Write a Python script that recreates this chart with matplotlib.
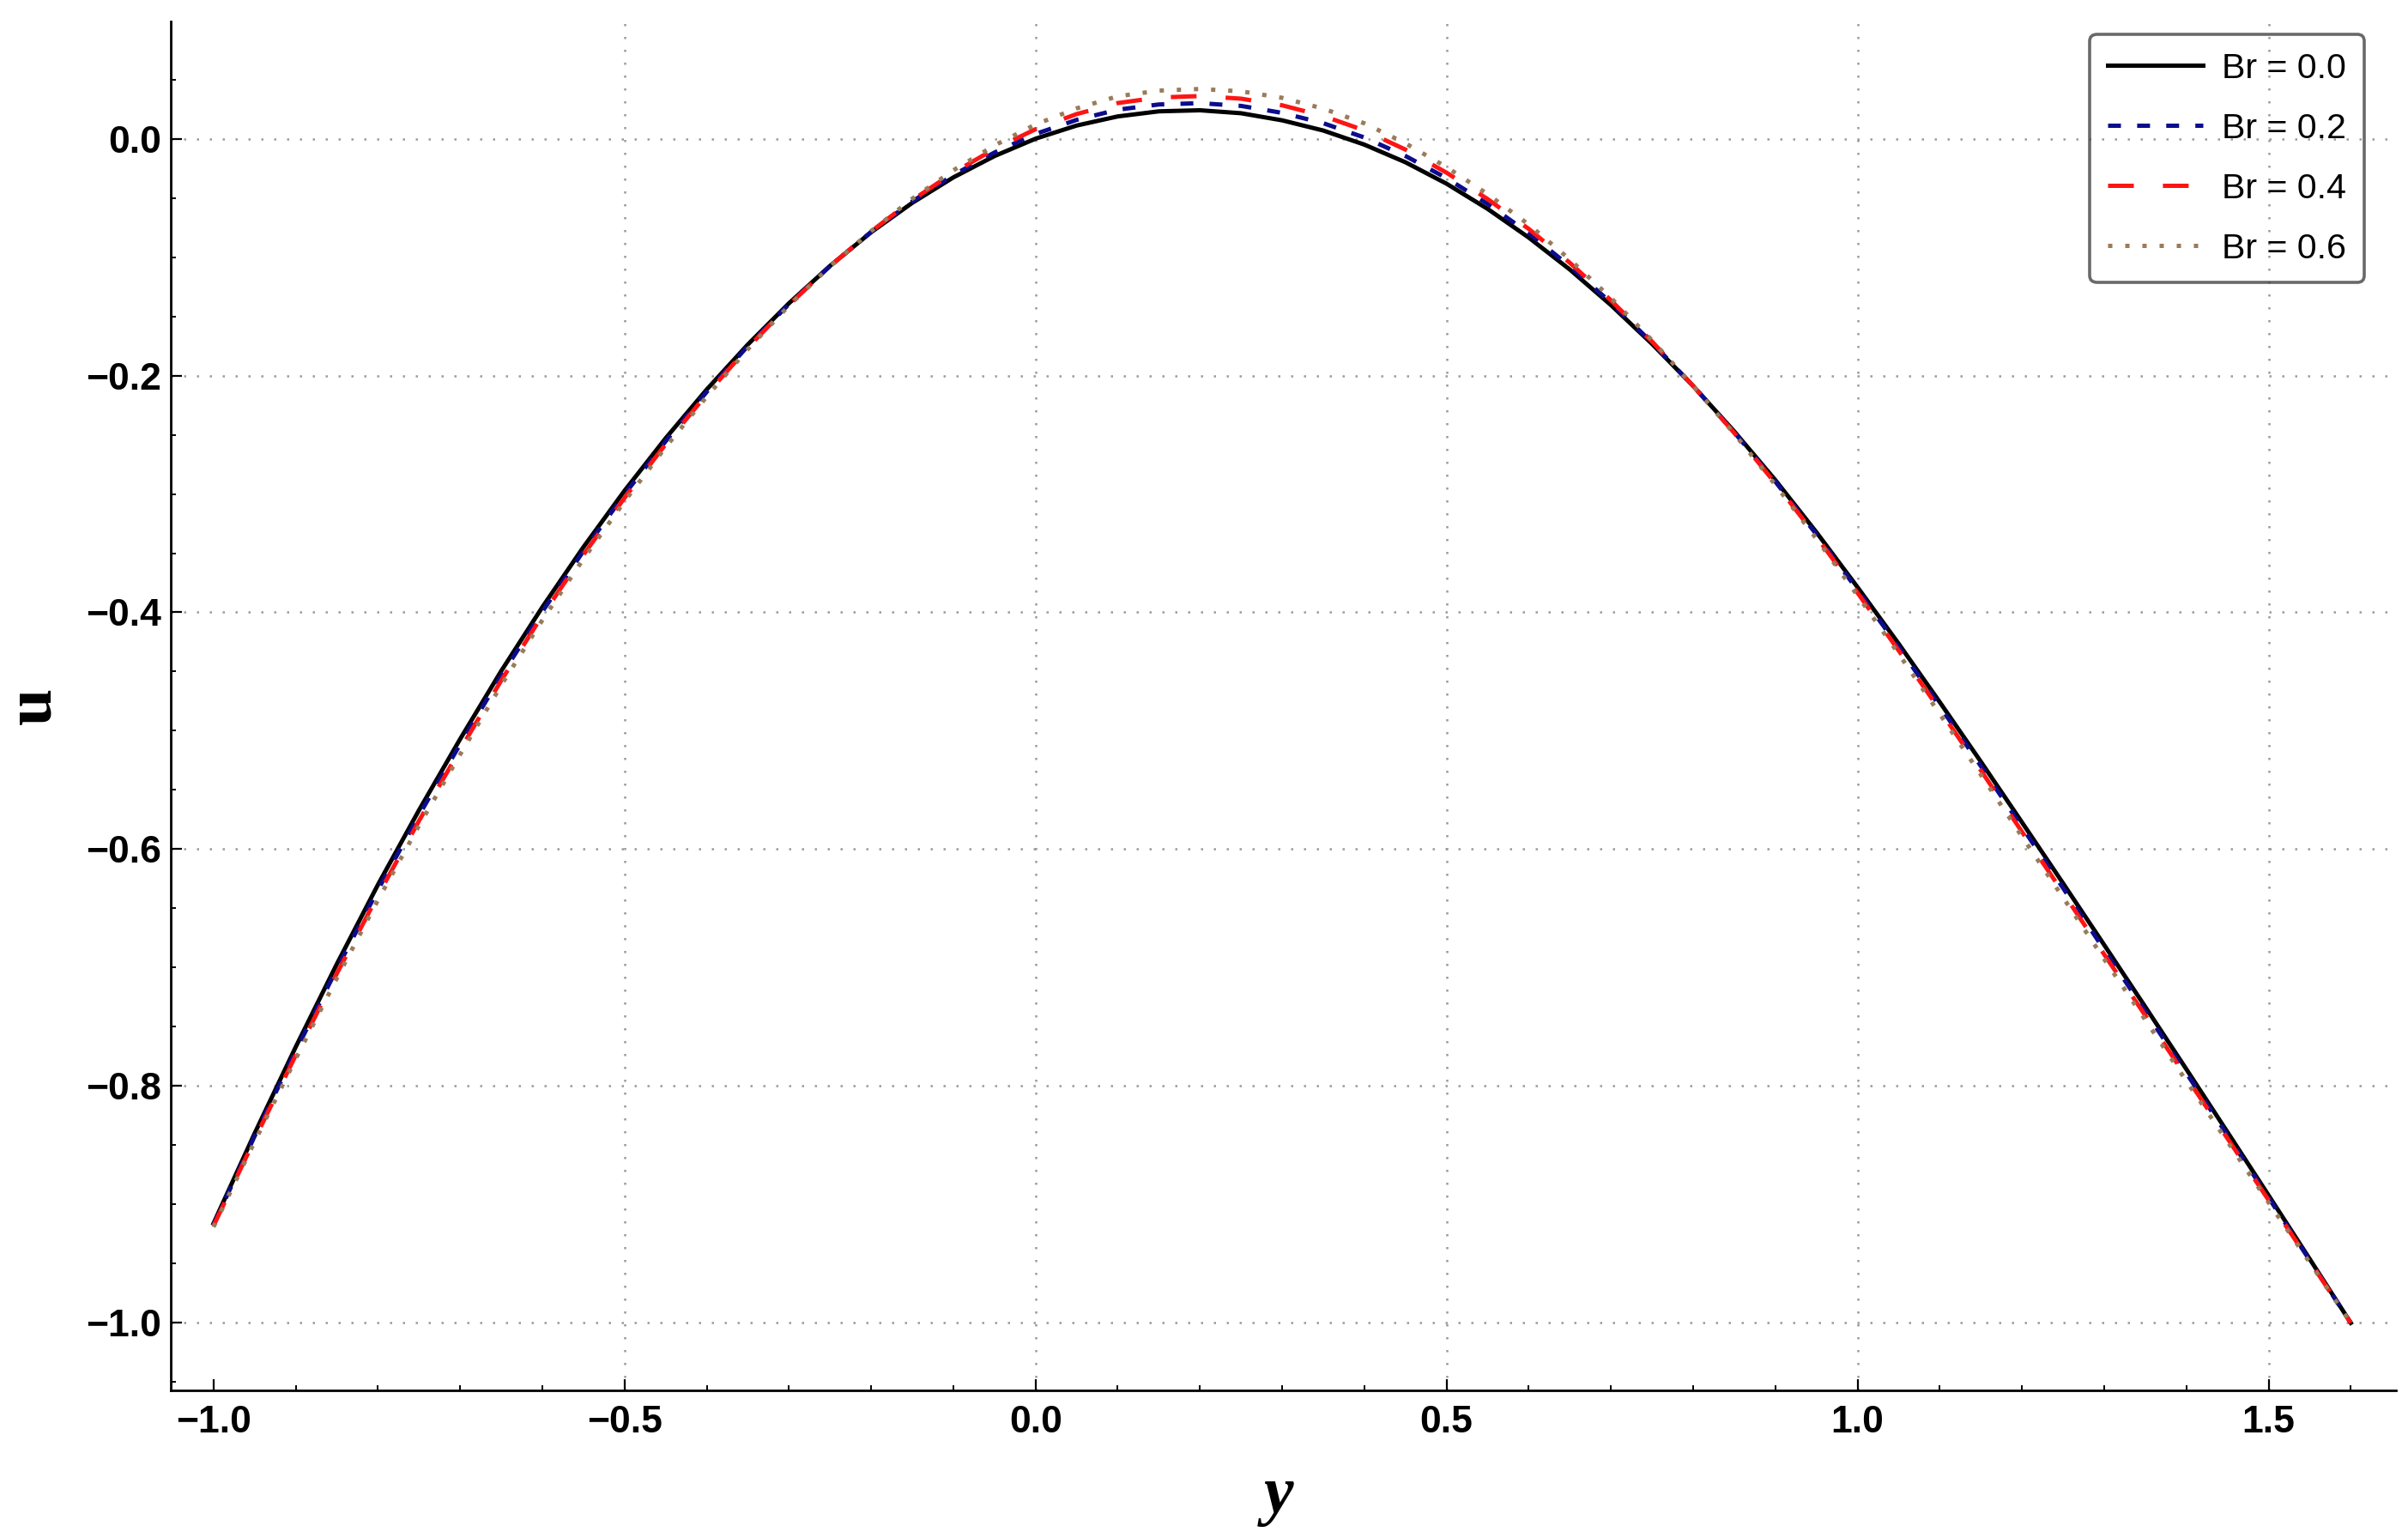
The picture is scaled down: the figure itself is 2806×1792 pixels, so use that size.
import matplotlib
matplotlib.use("Agg")
import matplotlib.pyplot as plt
from matplotlib.ticker import MultipleLocator, FuncFormatter

plt.rcParams['font.family'] = ['Liberation Sans', 'DejaVu Sans']
plt.rcParams['lines.scale_dashes'] = False

y_vals = [-1.00, -0.95, -0.90, -0.85, -0.80, -0.75, -0.70, -0.65, -0.60,
          -0.55, -0.50, -0.45, -0.40, -0.35, -0.30, -0.25, -0.20, -0.15,
          -0.10, -0.05, 0.00, 0.05, 0.10, 0.15, 0.20, 0.25, 0.30, 0.35,
          0.40, 0.45, 0.50, 0.55, 0.60, 0.65, 0.70, 0.75, 0.80, 0.85,
          0.90, 0.95, 1.00, 1.05, 1.10, 1.15, 1.20, 1.25, 1.30, 1.35,
          1.40, 1.45, 1.50, 1.55, 1.60]

u_br00 = [-0.916, -0.840, -0.767, -0.697, -0.630, -0.567, -0.507, -0.4495,
          -0.3956, -0.3449, -0.2973, -0.2530, -0.2118, -0.1738, -0.1390,
          -0.1074, -0.0790, -0.0542, -0.0327, -0.0147, 0.0000, 0.0111,
          0.0188, 0.0231, 0.0240, 0.0215, 0.0155, 0.0069, -0.0050, -0.0199,
          -0.0380, -0.0593, -0.0835, -0.1105, -0.1405, -0.1733, -0.2088,
          -0.2472, -0.2883, -0.3324, -0.3788, -0.4265, -0.4758, -0.5261,
          -0.5773, -0.6288, -0.6808, -0.7331, -0.7858, -0.8389, -0.8923,
          -0.9460, -1.0000]
u_br02 = [-0.917, -0.8423, -0.7703, -0.701, -0.6343, -0.5713, -0.5113,
          -0.4535, -0.3993, -0.3482, -0.3003, -0.2555, -0.2138, -0.1751,
          -0.1397, -0.1076, -0.0787, -0.0530, -0.0307, -0.0117, 0.0040,
          0.0159, 0.0245, 0.0289, 0.0300, 0.0277, 0.0218, 0.0131, 0.0010,
          -0.0146, -0.0333, -0.0551, -0.0798, -0.1077, -0.1385, -0.1723,
          -0.2088, -0.2479, -0.2896, -0.3342, -0.3811, -0.4293, -0.4791,
          -0.5298, -0.5813, -0.6328, -0.6848, -0.7368, -0.7891, -0.8416,
          -0.8943, -0.9470, -1.0000]
u_br04 = [-0.918, -0.845, -0.774, -0.705, -0.639, -0.576, -0.516, -0.4575,
          -0.4026, -0.3514, -0.3033, -0.2580, -0.2158, -0.1765, -0.1403,
          -0.1077, -0.0783, -0.0519, -0.0287, -0.0087, 0.0080, 0.0208,
          0.0301, 0.0348, 0.0360, 0.0338, 0.0282, 0.0192, 0.0070, -0.0092,
          -0.0287, -0.0510, -0.0762, -0.1048, -0.1365, -0.1713, -0.2088,
          -0.2485, -0.2910, -0.3361, -0.3835, -0.4322, -0.4825, -0.5334,
          -0.5853, -0.6368, -0.6888, -0.7404, -0.7925, -0.8442, -0.8963,
          -0.9480, -1.0000]
u_br06 = [-0.919, -0.847, -0.777, -0.709, -0.643, -0.580, -0.520, -0.4615,
          -0.4066, -0.3549, -0.3063, -0.2605, -0.2178, -0.1778, -0.1410,
          -0.1079, -0.0780, -0.0507, -0.0267, -0.0057, 0.0120, 0.0256,
          0.0358, 0.0406, 0.0420, 0.0400, 0.0345, 0.0254, 0.0130, -0.0039,
          -0.0240, -0.0468, -0.0725, -0.1020, -0.1345, -0.1703, -0.2088,
          -0.2492, -0.2923, -0.3379, -0.3858, -0.4350, -0.4858, -0.5371,
          -0.5893, -0.6408, -0.6928, -0.7441, -0.7958, -0.8469, -0.8983,
          -0.9490, -1.0000]

labels = ["Br = 0.0", "Br = 0.2", "Br = 0.4", "Br = 0.6"]
series = [u_br00, u_br02, u_br04, u_br06]
colors = ['#000000', '#0c0c8c', '#ff1414', '#9a7b5a']
styles = ['-', (0, (5.4, 6.8)), (0, (10.8, 12.2)), (0, (1.8, 5.4))]

grid_x = [-0.5, 0.0, 0.5, 1.0, 1.5]
grid_y = [0.0, -0.2, -0.4, -0.6, -0.8, -1.0]

W, H = 2806, 1792
fig = plt.figure(figsize=(W / 200, H / 200), dpi=200)
ax = fig.add_axes([199 / W, 1 - 1620 / H, (2792 - 199) / W, (1620 - 25) / H])

# dotted grid
for gx in grid_x:
    ax.axvline(gx, color='#9a9a9a', lw=0.9, ls=(0, (0.9, 4.5)), zorder=1)
for gy in grid_y:
    ax.axhline(gy, color='#9a9a9a', lw=0.9, ls=(0, (0.9, 4.5)), zorder=1)

for vals, lab, col, st in zip(series, labels, colors, styles):
    ax.plot(y_vals, vals, color=col, ls=st, lw=1.8, label=lab, zorder=3)

ax.set_xlim(-1.052, 1.655)
ax.set_ylim(-1.057, 0.099)

for side in ['top', 'right']:
    ax.spines[side].set_visible(False)
for side in ['left', 'bottom']:
    ax.spines[side].set_linewidth(1.0)


def fmt(v, pos):
    s = '%.1f' % v
    if s == '-0.0':
        s = '0.0'
    return s.replace('-', '\u2212')


ax.xaxis.set_major_locator(MultipleLocator(0.5))
ax.xaxis.set_minor_locator(MultipleLocator(0.1))
ax.yaxis.set_major_locator(MultipleLocator(0.2))
ax.yaxis.set_minor_locator(MultipleLocator(0.05))
ax.xaxis.set_major_formatter(FuncFormatter(fmt))
ax.yaxis.set_major_formatter(FuncFormatter(fmt))
ax.tick_params(which='major', direction='in', length=4.7, width=0.8,
               labelsize=16)
ax.tick_params(which='minor', direction='in', length=2.3, width=0.7)
ax.tick_params(axis='x', which='major', pad=6)
ax.tick_params(axis='y', which='major', pad=4)
for t in ax.get_xticklabels() + ax.get_yticklabels():
    t.set_fontweight('bold')

fig.text(1490 / W, 1 - 1743 / H, 'y', fontsize=28, fontweight='bold',
         fontstyle='italic', family=['Liberation Serif', 'DejaVu Serif'],
         ha='center', va='center')
fig.text(40 / W, 1 - 822 / H, 'u', fontsize=28, fontweight='bold',
         family=['Liberation Serif', 'DejaVu Serif'], rotation=90,
         ha='center', va='center')

leg = ax.legend(loc='upper right', bbox_to_anchor=(2755 / W, 1 - 40 / H),
                bbox_transform=fig.transFigure, fontsize=14.8, frameon=True,
                fancybox=True, facecolor='none', edgecolor='#444444',
                handlelength=2.7, handletextpad=0.55, labelspacing=0.78,
                borderpad=0.5, borderaxespad=0)
leg.get_frame().set_linewidth(1.3)

fig.savefig('out.png', dpi=200, facecolor='white')
